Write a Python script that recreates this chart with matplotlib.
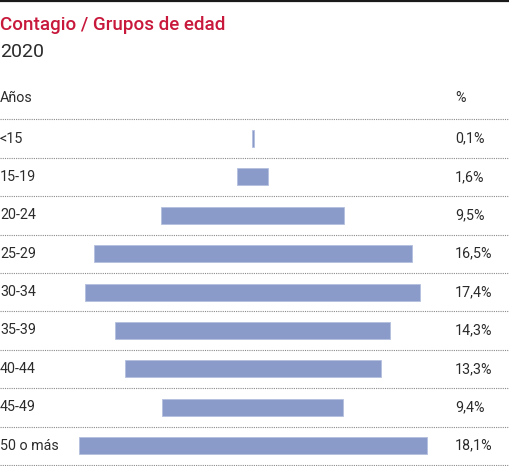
import matplotlib.pyplot as plt
import numpy as np

# data
age_groups = ["<15", "15-19", "20-24", "25-29", "30-34", "35-39", "40-44", "45-49", "50 o más"]
shares = [0.1, 1.6, 9.5, 16.5, 17.4, 14.3, 13.3, 9.4, 18.1]
share_labels = ["0,1%", "1,6%", "9,5%", "16,5%", "17,4%", "14,3%", "13,3%", "9,4%", "18,1%"]

TITLE = "Contagio / Grupos de edad"
SUBTITLE = "2020"
BAR_COLOR = "#8a9bca"
TITLE_COLOR = "#c8193c"
TEXT_COLOR = "#2b2b2b"

W, H = 510, 466
PX_PER_UNIT = 19.25   # pixels per percentage point
CENTER_X = 252.8      # pixel position of the bar centre line
ROW_H = 38.4
FIRST_SEP = 119.3

fig = plt.figure(figsize=(W / 100, H / 100), dpi=100)
ax = fig.add_axes([0, 0, 1, 1])
ax.set_xlim(-CENTER_X / PX_PER_UNIT, (W - CENTER_X) / PX_PER_UNIT)
top = -(FIRST_SEP + ROW_H / 2) / ROW_H
ax.set_ylim(top + H / ROW_H, top)
ax.axis("off")

x_left = ax.get_xlim()[0]
x_right = ax.get_xlim()[1]
x_pct = (455 - CENTER_X) / PX_PER_UNIT

rows = np.arange(len(age_groups))
vals = np.array(shares)
ax.barh(rows, vals, left=-vals / 2, height=17 / ROW_H, color=BAR_COLOR,
        edgecolor="#b4c0e0", linewidth=0.6)

# dotted separators
for y in np.arange(len(age_groups) + 1) - 0.5:
    ax.plot([x_left, x_right], [y, y], color="#8a8a8a", linewidth=0.8,
            linestyle=(0, (1, 1)), solid_capstyle="butt")

font = "Roboto"
LBL = 10.3
for i, (g, s) in enumerate(zip(age_groups, share_labels)):
    ax.text(x_left, i, g, ha="left", va="center", fontsize=LBL, color=TEXT_COLOR, family=font)
    ax.text(x_pct, i, s, ha="left", va="center", fontsize=LBL, color=TEXT_COLOR, family=font)

# header row
hdr_y = top + 98 / ROW_H
ax.text(x_left, hdr_y, "Años", ha="left", va="center", fontsize=LBL, color=TEXT_COLOR, family=font)
ax.text(x_pct, hdr_y, "%", ha="left", va="center", fontsize=LBL, color=TEXT_COLOR, family=font)

# title block
ax.text(x_left, top + 25 / ROW_H, TITLE, ha="left", va="center", fontsize=13.5,
        color=TITLE_COLOR, family=font, fontweight="medium")
ax.text(x_left, top + 52 / ROW_H, SUBTITLE, ha="left", va="center", fontsize=14,
        color=TEXT_COLOR, family=font)

# black rule at the very top
fig.add_artist(plt.Line2D([0, 1], [1 - 0.8 / H, 1 - 0.8 / H], color="#1a1a1a", linewidth=1.6))

fig.savefig("out.png", dpi=100)
